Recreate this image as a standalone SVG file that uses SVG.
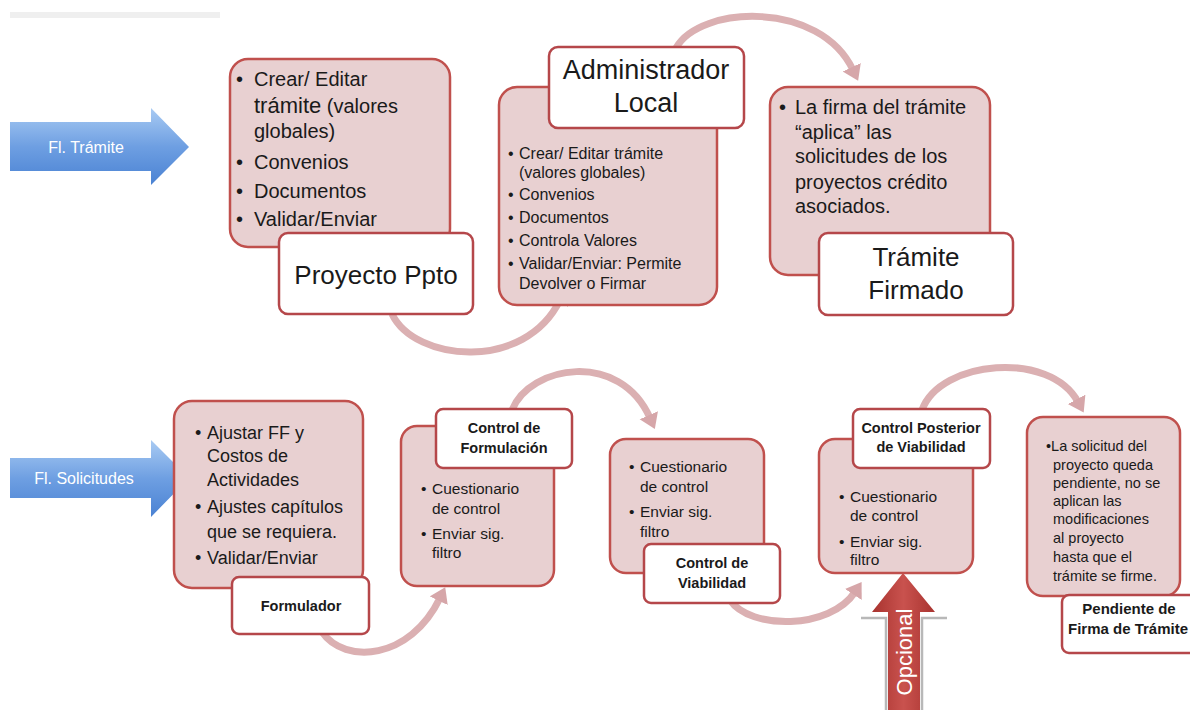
<svg xmlns="http://www.w3.org/2000/svg" width="1190" height="710" viewBox="0 0 1190 710">
<defs>
<style>
.box{fill:#e8d0d1;stroke:#c0504d;stroke-width:2.5}
.lbl{fill:#ffffff;stroke:#b5474a;stroke-width:2.5}
.t{font-family:"Liberation Sans",Arial,sans-serif;fill:#1a1a1a}
.b{font-weight:bold}
.w{fill:#ffffff}
.conn{fill:none;stroke:#dbb0b2;stroke-width:7}
</style>
<linearGradient id="blue" x1="0" y1="0" x2="0" y2="1">
<stop offset="0" stop-color="#a9cbf3"/>
<stop offset="0.5" stop-color="#6e9fe2"/>
<stop offset="1" stop-color="#4a82d3"/>
</linearGradient>
<linearGradient id="red" x1="0" y1="0" x2="1" y2="0">
<stop offset="0" stop-color="#a8332f"/>
<stop offset="0.5" stop-color="#c9524e"/>
<stop offset="1" stop-color="#a8332f"/>
</linearGradient>
<marker id="ah" markerUnits="userSpaceOnUse" markerWidth="20" markerHeight="22" refX="3" refY="10" orient="auto">
<path d="M0,0 L15,10 L0,20 Z" fill="#d6a6a9"/>
</marker>
</defs>
<rect width="1190" height="710" fill="#ffffff"/>
<rect x="10" y="12" width="210" height="6" fill="#efefef"/>

<g id="connectors">
<path class="conn" d="M392,314 C415,362 525,372 560,300" marker-end="url(#ah)"/>
<path class="conn" d="M676,48 C700,5 820,0 853,70" marker-end="url(#ah)"/>
<path class="conn" d="M322,632 C345,665 410,660 440,598" marker-end="url(#ah)"/>
<path class="conn" d="M512,410 C530,365 620,350 650,418" marker-end="url(#ah)"/>
<path class="conn" d="M730,600 C750,630 830,630 855,592" marker-end="url(#ah)"/>
<path class="conn" d="M922,410 C940,360 1050,350 1078,402" marker-end="url(#ah)"/>
</g>

<g id="fl-tramite">
<path d="M10,122 H151 V108 L189,147 L151,185 V171 H10 Z" fill="url(#blue)"/>
<text class="t w" x="86" y="153" font-size="16" text-anchor="middle">Fl. Trámite</text>
</g>

<g id="fl-solicitudes">
<path d="M10,458 H151 V440 L189,478 L151,517 V498 H10 Z" fill="url(#blue)"/>
<text class="t w" x="84" y="484" font-size="16" text-anchor="middle">Fl. Solicitudes</text>
</g>

<g id="proyecto-ppto">
<rect class="box" x="230" y="59" width="220" height="188" rx="18"/>
<g class="t" font-size="20">
<text x="236" y="86">•</text><text x="254" y="86">Crear/ Editar</text>
<text x="254" y="113"><tspan font-size="22">trámite</tspan> (valores</text>
<text x="254" y="138">globales)</text>
<text x="236" y="169">•</text><text x="254" y="169">Convenios</text>
<text x="236" y="198">•</text><text x="254" y="198">Documentos</text>
<text x="236" y="226">•</text><text x="254" y="226">Validar/Enviar</text>
</g>
<rect class="lbl" x="279" y="233" width="194" height="81" rx="9"/>
<text class="t" x="376" y="284" font-size="26" text-anchor="middle">Proyecto Ppto</text>
</g>

<g id="administrador-local">
<rect class="box" x="499" y="87" width="218" height="218" rx="18"/>
<g class="t" font-size="16">
<text x="508" y="159">•</text><text x="519" y="159">Crear/ Editar trámite</text>
<text x="519" y="178">(valores globales)</text>
<text x="508" y="200">•</text><text x="519" y="200">Convenios</text>
<text x="508" y="223">•</text><text x="519" y="223">Documentos</text>
<text x="508" y="246">•</text><text x="519" y="246">Controla Valores</text>
<text x="508" y="269">•</text><text x="519" y="269">Validar/Enviar: Permite</text>
<text x="519" y="289">Devolver o Firmar</text>
</g>
<rect class="lbl" x="549" y="47" width="195" height="81" rx="9"/>
<text class="t" x="646" y="79" font-size="27" text-anchor="middle">Administrador</text>
<text class="t" x="646" y="112" font-size="27" text-anchor="middle">Local</text>
</g>

<g id="tramite-firmado">
<rect class="box" x="770" y="87" width="220" height="188" rx="18"/>
<g class="t" font-size="20">
<text x="779" y="114">•</text><text x="795" y="114">La firma del trámite</text>
<text x="795" y="139">“aplica” las</text>
<text x="795" y="163">solicitudes de los</text>
<text x="795" y="189">proyectos crédito</text>
<text x="795" y="213">asociados.</text>
</g>
<rect class="lbl" x="819" y="233" width="194" height="82" rx="9"/>
<text class="t" x="916" y="266" font-size="26" text-anchor="middle">Trámite</text>
<text class="t" x="916" y="299" font-size="26" text-anchor="middle">Firmado</text>
</g>

<g id="formulador">
<rect class="box" x="174" y="401" width="189" height="187" rx="18"/>
<g class="t" font-size="18">
<text x="195" y="439">•</text><text x="207" y="439">Ajustar FF y</text>
<text x="207" y="462">Costos de</text>
<text x="207" y="486">Actividades</text>
<text x="195" y="513">•</text><text x="207" y="513">Ajustes capítulos</text>
<text x="207" y="538">que se requiera.</text>
<text x="195" y="564">•</text><text x="207" y="564">Validar/Enviar</text>
</g>
<rect class="lbl" x="232" y="577" width="137" height="57" rx="7"/>
<text class="t b" x="301" y="611" font-size="14.5" text-anchor="middle">Formulador</text>
</g>

<g id="control-formulacion">
<rect class="box" x="401" y="426" width="153" height="160" rx="16"/>
<g class="t" font-size="15.5">
<text x="421" y="494">•</text><text x="432" y="494">Cuestionario</text>
<text x="432" y="514">de control</text>
<text x="421" y="539">•</text><text x="432" y="539">Enviar sig.</text>
<text x="432" y="558">filtro</text>
</g>
<rect class="lbl" x="436" y="409" width="136" height="59" rx="7"/>
<text class="t b" x="504" y="433" font-size="14.5" text-anchor="middle">Control de</text>
<text class="t b" x="504" y="453" font-size="14.5" text-anchor="middle">Formulación</text>
</g>

<g id="control-viabilidad">
<rect class="box" x="610" y="439" width="154" height="134" rx="16"/>
<g class="t" font-size="15.5">
<text x="629" y="472">•</text><text x="640" y="472">Cuestionario</text>
<text x="640" y="492">de control</text>
<text x="629" y="517">•</text><text x="640" y="517">Enviar sig.</text>
<text x="640" y="537">filtro</text>
</g>
<rect class="lbl" x="644" y="544" width="136" height="59" rx="7"/>
<text class="t b" x="712" y="568" font-size="14.5" text-anchor="middle">Control de</text>
<text class="t b" x="712" y="588" font-size="14.5" text-anchor="middle">Viabilidad</text>
</g>

<g id="control-posterior">
<rect class="box" x="819" y="439" width="154" height="134" rx="16"/>
<g class="t" font-size="15.5">
<text x="839" y="502">•</text><text x="850" y="502">Cuestionario</text>
<text x="850" y="521">de control</text>
<text x="839" y="547">•</text><text x="850" y="547">Enviar sig.</text>
<text x="850" y="565">filtro</text>
</g>
<rect class="lbl" x="853" y="409" width="137" height="59" rx="7"/>
<text class="t b" x="921" y="433" font-size="14.5" text-anchor="middle">Control Posterior</text>
<text class="t b" x="921" y="452" font-size="14.5" text-anchor="middle">de Viabilidad</text>
</g>

<g id="pendiente-firma">
<rect class="box" x="1027" y="417" width="153" height="179" rx="16"/>
<g class="t" font-size="14.5">
<text x="1046" y="451">•La solicitud del</text>
<text x="1053" y="470">proyecto queda</text>
<text x="1053" y="488">pendiente, no se</text>
<text x="1053" y="506">aplican las</text>
<text x="1053" y="524">modificaciones</text>
<text x="1053" y="543">al proyecto</text>
<text x="1053" y="562">hasta que el</text>
<text x="1053" y="581">trámite se firme.</text>
</g>
<rect class="lbl" x="1062" y="595" width="136" height="58" rx="7"/>
<text class="t b" x="1129" y="614" font-size="15" text-anchor="middle">Pendiente de</text>
<text class="t b" x="1128" y="634" font-size="15" text-anchor="middle">Firma de Trámite</text>
</g>

<g id="opcional">
<path d="M861,618 H886 V712 M947,618 H922 V712" fill="none" stroke="#b8b8b8" stroke-width="2.5"/>
<path d="M888,712 V612 H872 L903,573 L935,612 H920 V712 Z" fill="url(#red)"/>
<text class="t w" transform="translate(912,652) rotate(-90)" font-size="22" text-anchor="middle">Opcional</text>
</g>
</svg>
